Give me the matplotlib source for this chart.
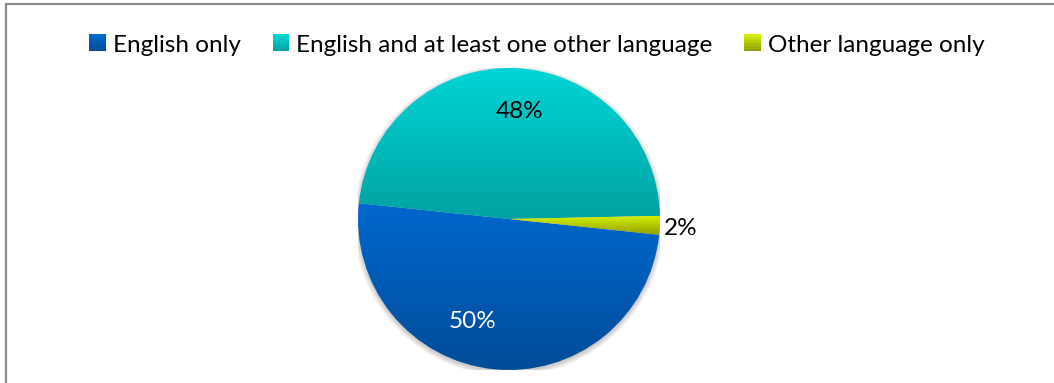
import numpy as np
import matplotlib
matplotlib.use("Agg")
import matplotlib.pyplot as plt
from matplotlib.patches import Rectangle, Circle
from matplotlib.legend_handler import HandlerBase
from matplotlib.colors import LinearSegmentedColormap

plt.rcParams['font.family'] = ['Lato', 'DejaVu Sans']

# Data
categories = ["English only", "English and at least one other language", "Other language only"]
shares = [50, 48, 2]
label_texts = ["50%", "48%", "2%"]

# Gradient colours for each slice (top, bottom)
grad_colors = [("#0068CE", "#004C98"), ("#00D6D6", "#00A2A2"), ("#D4F000", "#8E9E00")]

W, H, DPI = 1054, 383, 100
fig = plt.figure(figsize=(W / DPI, H / DPI), dpi=DPI)
fig.patch.set_facecolor("white")

# Chart frame (runs past the right and bottom edges)
frame = Rectangle((6 / W, -0.1), 1.2, (H - 3.5) / H + 0.1, transform=fig.transFigure,
                  fill=False, edgecolor="#8C8C8C", linewidth=1.6)
fig.add_artist(frame)

cx, cy, r = 509, 219, 151
ax = fig.add_axes([(cx - r) / W, (H - cy - r) / H, 2 * r / W, 2 * r / H])
ax.set_xlim(-1, 1)
ax.set_ylim(-1, 1)
ax.set_aspect("equal")
ax.axis("off")

# Soft shadow under the pie
for i in range(6):
    ax.add_patch(Circle((0, -0.012), 1.0 + i * 0.006, color="black",
                        alpha=0.035, zorder=0, linewidth=0))

wedges, _ = ax.pie(shares, startangle=-6, counterclock=False, radius=1.0,
                   wedgeprops=dict(linewidth=0))

for w, (top, bot) in zip(wedges, grad_colors):
    path = w.get_path()
    verts = path.vertices
    x0, x1 = verts[:, 0].min(), verts[:, 0].max()
    y0, y1 = verts[:, 1].min(), verts[:, 1].max()
    cmap = LinearSegmentedColormap.from_list("g", [bot, top])
    grad = np.linspace(0, 1, 256).reshape(-1, 1)
    im = ax.imshow(grad, cmap=cmap, origin="lower", aspect="auto",
                   extent=[x0, x1, y0, y1], zorder=2, interpolation="bilinear")
    im.set_clip_path(w)
    w.set_facecolor("none")

ax.set_xlim(-1, 1)
ax.set_ylim(-1, 1)

# Value labels
fs = 17.5
ax.text(-0.24, -0.68, label_texts[0], color="white", fontsize=fs,
        ha="center", va="center", zorder=5)
ax.text(0.07, 0.71, label_texts[1], color="black", fontsize=fs,
        ha="center", va="center", zorder=5)
ax.text(1.14, -0.065, label_texts[2], color="black", fontsize=fs,
        ha="center", va="center", zorder=5, clip_on=False)


class GradientHandler(HandlerBase):
    def __init__(self, top, bot, **kw):
        super().__init__(**kw)
        self.top, self.bot = top, bot

    def create_artists(self, legend, orig_handle, xdescent, ydescent,
                       width, height, fontsize, trans):
        cmap = LinearSegmentedColormap.from_list("g", [self.bot, self.top])
        side = width
        x = xdescent
        y = -ydescent + (height - side) / 2
        n = 12
        arts = []
        for k in range(n):
            arts.append(Rectangle((x, y + side * k / n), side, side / n + 0.3,
                                  facecolor=cmap(k / (n - 1)), edgecolor="none",
                                  transform=trans))
        return arts


handles = [Rectangle((0, 0), 1, 1) for _ in categories]
handler_map = {h: GradientHandler(t, b) for h, (t, b) in zip(handles, grad_colors)}
fig.legend(handles, categories, handler_map=handler_map, loc="center",
           bbox_to_anchor=(537 / W, 1 - 45 / H), ncol=3, frameon=False,
           fontsize=fs, handlelength=0.68, handletextpad=0.3, columnspacing=1.3)

fig.savefig("out.png", dpi=DPI, facecolor="white")
